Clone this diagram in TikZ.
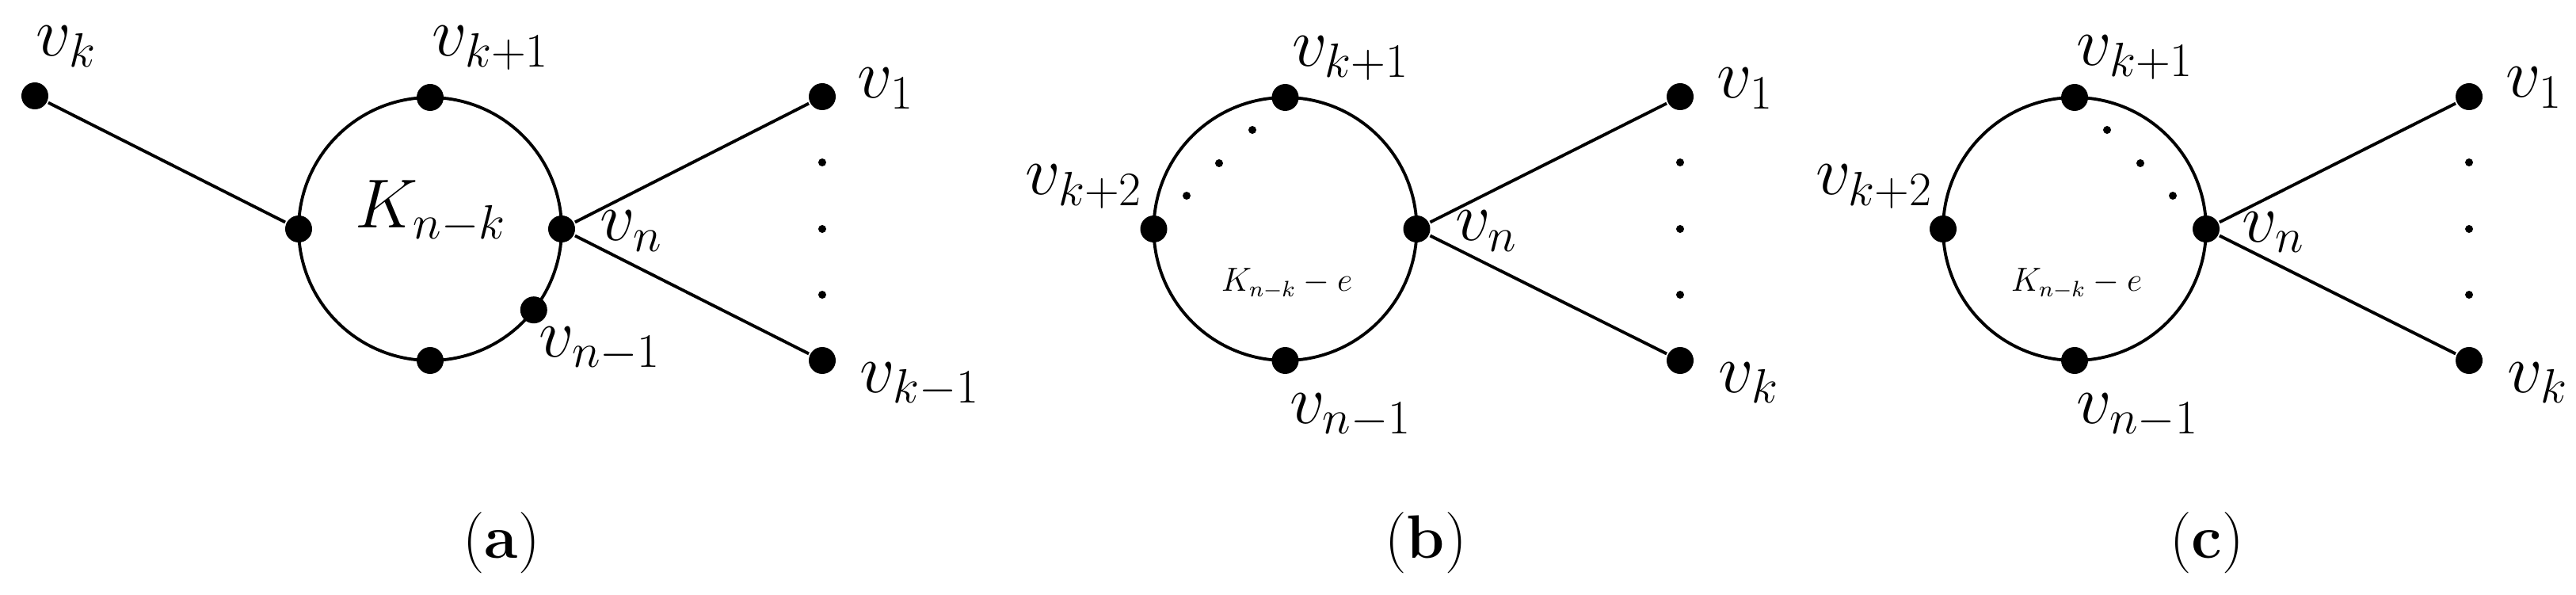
\documentclass[tikz,border=0pt]{standalone}
\usetikzlibrary{positioning,calc}

\begin{document}
\begin{tikzpicture}[
  font=\fontsize{23}{27}\selectfont, line width=1.1pt,
  ring/.style={circle, draw, minimum size=33.2mm, inner sep=0pt, outer sep=0pt},
  vtx/.style={circle, fill, minimum size=3.4mm, inner sep=0pt},
  pt/.style={circle, fill, minimum size=1mm, inner sep=0pt},
  lbl/.style={inner sep=0pt, anchor=base west},
  small/.style={font=\fontsize{11.5}{13}\selectfont, inner sep=0pt, anchor=base west},
  subcap/.style={font=\fontsize{22}{26}\selectfont, anchor=base},
]
\useasboundingbox (0,0) rectangle (32.52,7.5);

% ---- (a) ----
\node[ring] (Ka) at (5.43,4.61) {};
\node[vtx] (a-top) at (Ka.north) {};
\node[vtx] (a-left) at (Ka.west) {};
\node[vtx] (a-vn) at (Ka.east) {};
\node[vtx] (a-bot) at (Ka.south) {};
\node[vtx] (a-vn1) at (Ka.-38) {};
\node[vtx] (a-vk) at (0.44,6.29) {};
\node[vtx] (a-v1) at (10.38,6.28) {};
\node[vtx] (a-vk1) at (10.38,2.95) {};
\node[pt] (a-d1) at (10.38,5.45) {};
\node[pt] (a-d2) at (10.38,4.61) {};
\node[pt] (a-d3) at (10.38,3.78) {};

\draw (a-vk) -- (a-left);
\draw (a-vn) -- (a-v1);
\draw (a-vn) -- (a-vk1);

\node[lbl] (a-vk-l) at ($(a-vk)+(0,0.50)$) {$v_k$};
\node[lbl] (a-top-l) at ($(a-top)+(0.01,0.52)$) {$v_{k+1}$};
\node[lbl] (a-vn-l) at ($(a-vn)+(0.47,-0.15)$) {$v_n$};
\node[lbl] (a-vn1-l) at ($(a-vn1)+(0.05,-0.59)$) {$v_{n-1}$};
\node[lbl] (a-v1-l) at ($(a-v1)+(0.43,-0.02)$) {$v_1$};
\node[lbl] (a-vk1-l) at ($(a-vk1)+(0.46,-0.40)$) {$v_{k-1}$};
\node[lbl] (a-K) at (4.47,4.62) {$K_{n-k}$};
\node[subcap] (cap-a) at (6.33,0.46) {(\textbf{a})};

% ---- (b) ----
\node[ring] (Kb) at (16.225,4.61) {};
\node[vtx] (b-top) at (Kb.north) {};
\node[vtx] (b-left) at (Kb.west) {};
\node[vtx] (b-vn) at (Kb.east) {};
\node[vtx] (b-bot) at (Kb.south) {};
\node[vtx] (b-v1) at (21.21,6.28) {};
\node[vtx] (b-vk) at (21.21,2.95) {};
\node[pt] (b-d1) at (21.21,5.45) {};
\node[pt] (b-d2) at (21.21,4.61) {};
\node[pt] (b-d3) at (21.21,3.78) {};
\node[pt] (b-e1) at ($(Kb)+(-0.415,1.25)$) {};
\node[pt] (b-e2) at ($(Kb)+(-0.835,0.83)$) {};
\node[pt] (b-e3) at ($(Kb)+(-1.245,0.42)$) {};

\draw (b-vn) -- (b-v1);
\draw (b-vn) -- (b-vk);

\node[lbl] (b-top-l) at ($(b-top)+(0.07,0.39)$) {$v_{k+1}$};
\node[lbl, anchor=base east] (b-left-l) at ($(b-left)+(-0.12,0.43)$) {$v_{k+2}$};
\node[lbl] (b-vn-l) at ($(b-vn)+(0.47,-0.15)$) {$v_n$};
\node[lbl] (b-bot-l) at ($(b-bot)+(0.04,-0.79)$) {$v_{n-1}$};
\node[lbl] (b-v1-l) at ($(b-v1)+(0.45,-0.02)$) {$v_1$};
\node[lbl] (b-vk-l) at ($(b-vk)+(0.47,-0.40)$) {$v_k$};
\node[small] (b-K) at (15.40,3.82) {$K_{n-k}-e$};
\node[subcap] (cap-b) at (18.00,0.46) {(\textbf{b})};

% ---- (c) ----
\node[ring] (Kc) at (26.19,4.61) {};
\node[vtx] (c-top) at (Kc.north) {};
\node[vtx] (c-left) at (Kc.west) {};
\node[vtx] (c-vn) at (Kc.east) {};
\node[vtx] (c-bot) at (Kc.south) {};
\node[vtx] (c-v1) at (31.17,6.28) {};
\node[vtx] (c-vk) at (31.17,2.95) {};
\node[pt] (c-d1) at (31.17,5.45) {};
\node[pt] (c-d2) at (31.17,4.61) {};
\node[pt] (c-d3) at (31.17,3.78) {};
\node[pt] (c-e1) at ($(Kc)+(0.41,1.25)$) {};
\node[pt] (c-e2) at ($(Kc)+(0.83,0.83)$) {};
\node[pt] (c-e3) at ($(Kc)+(1.24,0.42)$) {};

\draw (c-vn) -- (c-v1);
\draw (c-vn) -- (c-vk);

\node[lbl] (c-top-l) at ($(c-top)+(0.01,0.40)$) {$v_{k+1}$};
\node[lbl, anchor=base east] (c-left-l) at ($(c-left)+(-0.11,0.43)$) {$v_{k+2}$};
\node[lbl] (c-vn-l) at ($(c-vn)+(0.44,-0.16)$) {$v_n$};
\node[lbl] (c-bot-l) at ($(c-bot)+(0.01,-0.79)$) {$v_{n-1}$};
\node[lbl] (c-v1-l) at ($(c-v1)+(0.45,-0.01)$) {$v_1$};
\node[lbl] (c-vk-l) at ($(c-vk)+(0.47,-0.40)$) {$v_k$};
\node[small] (c-K) at (25.37,3.82) {$K_{n-k}-e$};
\node[subcap] (cap-c) at (27.86,0.46) {(\textbf{c})};
\end{tikzpicture}
\end{document}
